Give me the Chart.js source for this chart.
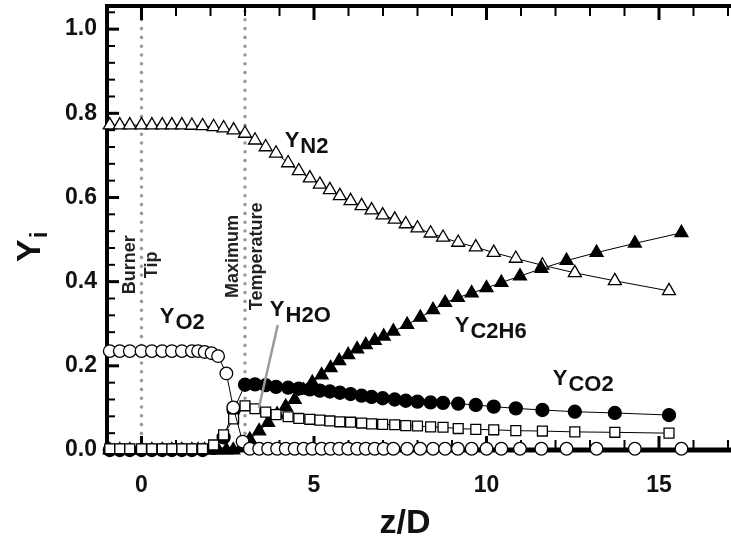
<!DOCTYPE html>
<html>
<head>
<meta charset="utf-8">
<script src="https://cdn.jsdelivr.net/npm/chart.js@4/dist/chart.umd.min.js"></script>
<style>
  html, body { margin: 0; padding: 0; background: #fff; }
  #wrap { width: 731px; height: 540px; }
</style>
</head>
<body>
<div id="wrap"><canvas id="c" width="731" height="540"></canvas></div>
<script>
// Axial positions (z/D) of the two measurement sets
const zA = [-0.92,-0.63,-0.34,0,0.3,0.6,0.88,1.17,1.46,1.77,2.09,2.38,2.67,3.0,3.29,3.6,3.9,4.25,4.56,4.88,
            5.17,5.46,5.75,6.06,6.38,6.67,6.99,7.34,7.66,8.0,8.38,8.74,9.18,9.69,10.21,10.85,11.62,12.56,13.72,15.29];
const zB = [-0.92,-0.63,-0.34,0,0.3,0.6,0.88,1.17,1.46,1.64,1.83,2.03,2.22,2.46,2.66,2.93,
            3.14,3.41,3.67,3.93,4.18,4.44,4.7,4.95,5.22,5.48,5.73,5.99,6.25,6.5,6.76,
            7.02,7.3,7.7,8.08,8.45,8.8,9.17,9.57,10.0,10.43,10.97,11.59,12.32,13.19,14.3,15.65];

// Mass fractions on zA
const yN2  = [0.772,0.772,0.772,0.772,0.772,0.772,0.772,0.772,0.771,0.770,0.768,0.765,0.760,0.752,0.736,0.720,0.705,0.682,0.663,0.646,
              0.631,0.618,0.604,0.592,0.580,0.570,0.558,0.548,0.537,0.527,0.515,0.505,0.493,0.482,0.469,0.455,0.439,0.421,0.402,0.378];
const yCO2 = [0,0,0,0,0,0,0,0,0,0,0.005,0.030,0.095,0.155,0.156,0.154,0.150,0.148,0.146,0.144,
              0.141,0.139,0.136,0.133,0.129,0.126,0.123,0.120,0.117,0.115,0.113,0.112,0.110,0.107,0.103,0.099,0.095,0.091,0.088,0.083];
const yH2O = [0.003,0.003,0.003,0.003,0.003,0.003,0.003,0.003,0.003,0.003,0.012,0.036,0.074,0.105,0.098,0.090,0.084,0.079,0.075,0.073,
              0.071,0.069,0.067,0.066,0.064,0.062,0.061,0.060,0.058,0.057,0.055,0.054,0.051,0.049,0.048,0.046,0.045,0.043,0.042,0.040];
// Mass fractions on zB
const yO2  = [0.235,0.235,0.235,0.235,0.235,0.235,0.235,0.235,0.235,0.235,0.233,0.230,0.223,0.182,0.101,0.020,
              0.003,0.003,0.003,0.003,0.003,0.003,0.003,0.003,0.003,0.003,0.003,0.003,0.003,0.003,0.003,
              0.003,0.003,0.003,0.003,0.003,0.003,0.003,0.003,0.003,0.003,0.003,0.003,0.003,0.003,0.003,0.003];
const yC2H6 = [0,0,0,0,0,0,0,0,0,0,0,0,0,0,0,0.010,
               0.025,0.045,0.065,0.085,0.103,0.120,0.142,0.160,0.178,0.195,0.212,0.226,0.240,0.250,0.260,
               0.270,0.282,0.298,0.315,0.333,0.350,0.362,0.373,0.385,0.398,0.413,0.431,0.450,0.469,0.491,0.516];

const xTickLabels = [0, 5, 10, 15];
const yTickLabels = [0, 0.2, 0.4, 0.6, 0.8, 1.0];
const markerLines = [0, 3]; // burner tip, maximum temperature

const FONT = '"Liberation Sans Narrow", "Liberation Sans", Arial, sans-serif';

function pts(xs, ys) { return xs.map((x, i) => ({ x: x, y: ys[i] })); }

function subLabel(ctx, main, sub, x, y, size, subSize, drop) {
  ctx.font = 'bold ' + size + 'px ' + FONT;
  ctx.textAlign = 'left';
  ctx.textBaseline = 'alphabetic';
  ctx.fillText(main, x, y);
  const w = ctx.measureText(main).width;
  ctx.font = 'bold ' + subSize + 'px ' + FONT;
  ctx.fillText(sub, x + w + 1, y + drop);
}

function noPad(s) { s.paddingTop = 0; s.paddingBottom = 0; s.paddingLeft = 0; s.paddingRight = 0; }

const framePlugin = {
  id: 'frame',
  beforeDatasetsDraw(chart) {
    const { ctx, chartArea: a, scales: { x, y } } = chart;
    ctx.save();
    // dotted reference lines
    ctx.strokeStyle = '#9a9a9a';
    ctx.lineWidth = 3.6;
    ctx.lineCap = 'round';
    ctx.setLineDash([0, 8.8]);
    markerLines.forEach(m => {
      const px = x.getPixelForValue(m);
      ctx.beginPath();
      ctx.moveTo(px, a.top + 5);
      ctx.lineTo(px, a.bottom - 2);
      ctx.stroke();
    });
    ctx.setLineDash([]);
    ctx.lineCap = 'butt';

    // rotated annotations
    ctx.fillStyle = '#222';
    ctx.font = 'bold 18px ' + FONT;
    ctx.textAlign = 'center';
    ctx.textBaseline = 'middle';
    const rot = (lines, z, yv, gap) => {
      const px = x.getPixelForValue(z), py = y.getPixelForValue(yv);
      ctx.save();
      ctx.translate(px, py);
      ctx.rotate(-Math.PI / 2);
      lines.forEach((t, i) => ctx.fillText(t, 0, (i - (lines.length - 1) / 2) * gap));
      ctx.restore();
    };
    rot(['Burner', 'Tip'], 0, 0.44, 22);
    rot(['Maximum', 'Temperature'], 3, 0.46, 24);

    // axes
    ctx.strokeStyle = '#000';
    ctx.lineWidth = 4;
    ctx.beginPath();
    ctx.moveTo(a.left, a.top - 2); ctx.lineTo(a.left, a.bottom + 2);
    ctx.moveTo(a.left - 2, a.top); ctx.lineTo(731, a.top);
    ctx.stroke();
    ctx.lineWidth = 5;
    ctx.beginPath();
    ctx.moveTo(a.left - 2, a.bottom); ctx.lineTo(731, a.bottom);
    ctx.stroke();

    // inward ticks, x
    for (let v = -1; v <= 17; v++) {
      const major = v % 5 === 0;
      const px = x.getPixelForValue(v);
      ctx.lineWidth = major ? 3 : 2;
      const len = major ? 14 : 10;
      ctx.beginPath();
      ctx.moveTo(px, a.bottom); ctx.lineTo(px, a.bottom - len);
      ctx.moveTo(px, a.top); ctx.lineTo(px, a.top + len);
      ctx.stroke();
    }
    // inward ticks, y
    for (let k = 1; k <= 26; k++) {
      const v = k * 0.04;
      const major = k % 5 === 0;
      const py = y.getPixelForValue(v);
      ctx.lineWidth = major ? 3 : 2;
      const len = major ? 12 : 8;
      ctx.beginPath();
      ctx.moveTo(a.left, py); ctx.lineTo(a.left + len, py);
      ctx.stroke();
    }
    ctx.restore();
  },
  afterDatasetsDraw(chart) {
    const { ctx, chartArea: a, scales: { x, y } } = chart;
    ctx.save();
    // pointer to the water profile
    ctx.strokeStyle = '#9a9a9a';
    ctx.lineWidth = 2.5;
    ctx.beginPath();
    ctx.moveTo(x.getPixelForValue(3.95), y.getPixelForValue(0.297));
    ctx.lineTo(x.getPixelForValue(3.40), y.getPixelForValue(0.100));
    ctx.stroke();

    ctx.fillStyle = '#111';
    const L = (main, sub, z, yv) => subLabel(ctx, main, sub, x.getPixelForValue(z), y.getPixelForValue(yv), 22, 22, 6);
    L('Y', 'N2', 4.15, 0.72);
    L('Y', 'O2', 0.53, 0.302);
    L('Y', 'H2O', 3.72, 0.318);
    L('Y', 'C2H6', 9.08, 0.28);
    L('Y', 'CO2', 11.92, 0.155);

    // axis titles
    ctx.font = 'bold 34px ' + FONT;
    ctx.textAlign = 'center';
    ctx.textBaseline = 'alphabetic';
    ctx.fillText('z/D', 405, 533);

    ctx.save();
    ctx.translate(40, 262);
    ctx.rotate(-Math.PI / 2);
    ctx.textAlign = 'left';
    ctx.font = 'bold 34px ' + FONT;
    ctx.fillText('Y', 0, 0);
    const w = ctx.measureText('Y').width;
    ctx.font = 'bold 24px ' + FONT;
    ctx.fillText('i', w + 1, 7);
    ctx.restore();
    ctx.restore();
  }
};

const common = { showLine: true, borderColor: '#000', borderWidth: 1, pointBorderColor: '#000',
                 pointBorderWidth: 1.3, clip: false, tension: 0 };

new Chart(document.getElementById('c'), {
  type: 'scatter',
  data: {
    datasets: [
      Object.assign({ label: 'O2', data: pts(zB, yO2), pointStyle: 'circle', pointRadius: 6.3,
                      pointBackgroundColor: '#fff', order: 1 }, common),
      Object.assign({ label: 'H2O', data: pts(zA, yH2O), pointStyle: 'rect', pointRadius: 7,
                      pointBackgroundColor: '#fff', order: 2 }, common),
      Object.assign({ label: 'CO2', data: pts(zA, yCO2), pointStyle: 'circle', pointRadius: 6.5,
                      pointBackgroundColor: '#000', order: 3 }, common),
      Object.assign({ label: 'C2H6', data: pts(zB, yC2H6), pointStyle: 'triangle', pointRadius: 7.5,
                      pointBackgroundColor: '#000', order: 4 }, common),
      Object.assign({ label: 'N2', data: pts(zA, yN2), pointStyle: 'triangle', pointRadius: 7.5,
                      pointBackgroundColor: '#fff', order: 5 }, common)
    ]
  },
  options: {
    responsive: false,
    animation: false,
    devicePixelRatio: 1,
    layout: { autoPadding: false, padding: { top: 6, right: 3, left: 0, bottom: 0 } },
    plugins: { legend: { display: false }, tooltip: { enabled: false } },
    scales: {
      x: {
        type: 'linear', min: -1, max: 17,
        afterFit(s) { s.height = 90; noPad(s); },
        afterBuildTicks(s) { s.ticks = xTickLabels.map(v => ({ value: v })); },
        grid: { display: false, drawTicks: false },
        border: { display: false },
        ticks: { color: '#111', padding: 22, font: { family: FONT, size: 23, weight: 'bold' },
                 maxRotation: 0, callback: v => String(v) }
      },
      y: {
        type: 'linear', min: 0, max: 1.055,
        afterFit(s) { s.width = 107; noPad(s); },
        afterBuildTicks(s) { s.ticks = yTickLabels.map(v => ({ value: v })); },
        grid: { display: false, drawTicks: false },
        border: { display: false },
        ticks: { color: '#111', padding: 10, font: { family: FONT, size: 23, weight: 'bold' },
                 callback: v => Number(v).toFixed(1) }
      }
    }
  },
  plugins: [framePlugin]
});
</script>
</body>
</html>
